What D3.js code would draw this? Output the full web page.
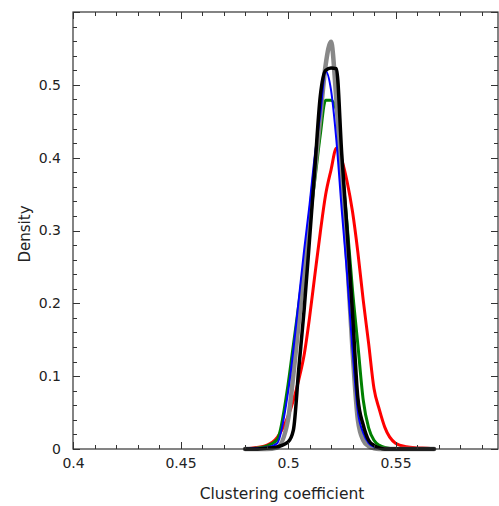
<!DOCTYPE html>
<html><head><meta charset="utf-8">
<script src="https://cdn.jsdelivr.net/npm/d3@7"></script>
<style>body{margin:0;background:#fff}svg{display:block}</style>
</head><body>
<script>
// ---- data ----
const xGrid = [0.48,0.485,0.49,0.495,0.5,0.5025,0.505,0.5075,0.51,0.5125,0.515,0.5175,0.52,0.5225,0.525,0.5275,0.53,0.5325,0.535,0.5375,0.54,0.5425,0.545,0.55,0.555,0.56,0.565,0.568];
const redVals   = [0,0.002,0.005,0.016,0.045,0.067,0.095,0.129,0.180,0.239,0.297,0.349,0.383,0.413,0.397,0.367,0.326,0.270,0.204,0.145,0.083,0.054,0.030,0.008,0.003,0.0015,0.001,0];
const greenVals = [0,0.001,0.004,0.013,0.088,0.143,0.198,0.255,0.312,0.370,0.431,0.479,0.479,0.466,0.390,0.308,0.218,0.143,0.067,0.029,0.012,0.005,0.002,0,0,0,0,0];
const grayVals  = [0,0,0,0.002,0.040,0.102,0.174,0.243,0.312,0.383,0.455,0.527,0.559,0.479,0.370,0.262,0.136,0.040,0.012,0.004,0.001,0,0,0,0,0,0,0];
const blueVals  = [0,0.001,0.002,0.008,0.078,0.136,0.205,0.273,0.335,0.404,0.459,0.519,0.493,0.424,0.328,0.239,0.136,0.051,0.022,0.008,0.003,0.001,0,0,0,0,0,0];
const blackVals = [0,0,0.001,0.003,0.0096,0.026,0.110,0.191,0.287,0.386,0.484,0.520,0.523,0.522,0.405,0.299,0.187,0.070,0.033,0.012,0.005,0.0015,0,0,0,0,0,0];
const xTickVals = [0.4,0.45,0.5,0.55];
const xTickLabels = ["0.4","0.45","0.5","0.55"];
const yTickVals = [0,0.1,0.2,0.3,0.4,0.5];
const yTickLabels = ["0","0.1","0.2","0.3","0.4","0.5"];
const xLabel = "Clustering coefficient";
const yLabel = "Density";

const series = [
  {name:"red",   vals:redVals,   color:"#ff0000", w:3},
  {name:"green", vals:greenVals, color:"#008000", w:3},
  {name:"gray",  vals:grayVals,  color:"#888888", w:4.5},
  {name:"blue",  vals:blueVals,  color:"#0000ff", w:2},
  {name:"black", vals:blackVals, color:"#000000", w:3.5}
];

// ---- layout ----
const W = 499, H = 506;
const mLeft = 73, mTop = 12, mBottom = 449, rightFull = 503, frameRight = 498;
const font = "DejaVu Sans, Verdana, sans-serif";

const x = d3.scaleLinear().domain([0.4, 0.6]).range([mLeft, rightFull]);
const y = d3.scaleLinear().domain([0, 0.6]).range([mBottom, mTop]);

const svg = d3.select("body").append("svg").attr("width", W).attr("height", H);

// curves
const line = d3.line().x(d => x(d[0])).y(d => y(d[1])).curve(d3.curveMonotoneX);
const gLines = svg.append("g");
series.forEach(s => {
  const pts = xGrid.map((v, i) => [v, s.vals[i]]);
  gLines.append("path").datum(pts).attr("d", line)
    .attr("fill", "none").attr("stroke", s.color).attr("stroke-width", s.w)
    .attr("stroke-linejoin", "round").attr("stroke-linecap", "round");
});

// frame
const axisColor = "#333";
svg.append("rect").attr("x", mLeft).attr("y", mTop).attr("width", frameRight - mLeft).attr("height", mBottom - mTop)
  .attr("fill", "none").attr("stroke", axisColor).attr("stroke-width", 1.2);

// minor/major ticks
const xMinor = d3.range(0, 20).map(i => 0.4 + i * 0.01).filter(v => x(v) < frameRight);
const yMinor = d3.range(0, 31).map(i => i * 0.02);
const tg = svg.append("g").attr("stroke", axisColor).attr("stroke-width", 1);
xMinor.forEach((v, i) => {
  const major = (i % 5 === 0);
  const len = major ? 7 : 4;
  const px = Math.round(x(v)) + 0.5;
  tg.append("line").attr("x1", px).attr("x2", px).attr("y1", mBottom).attr("y2", mBottom - len);
  tg.append("line").attr("x1", px).attr("x2", px).attr("y1", mTop).attr("y2", mTop + len);
});
yMinor.forEach((v, i) => {
  const major = (i % 5 === 0);
  const len = major ? 7 : 4;
  const py = Math.round(y(v)) + 0.5;
  tg.append("line").attr("y1", py).attr("y2", py).attr("x1", mLeft).attr("x2", mLeft + len);
  tg.append("line").attr("y1", py).attr("y2", py).attr("x1", frameRight).attr("x2", frameRight - len);
});

// axes labels via d3 axes (labels only)
const xAxis = d3.axisBottom(x).tickValues(xTickVals).tickFormat((d, i) => xTickLabels[i]).tickSize(0).tickPadding(9);
const gx = svg.append("g").attr("transform", `translate(0,${mBottom})`).call(xAxis);
const yAxis = d3.axisLeft(y).tickValues(yTickVals).tickFormat((d, i) => yTickLabels[i]).tickSize(0).tickPadding(12);
const gy = svg.append("g").attr("transform", `translate(${mLeft},0)`).call(yAxis);
[gx, gy].forEach(g => {
  g.select(".domain").remove();
  g.selectAll("text").attr("font-family", font).attr("font-size", 14).attr("fill", "#222");
});

svg.append("text").attr("x", 282).attr("y", 499)
  .attr("text-anchor", "middle").attr("font-family", font).attr("font-size", 15.5).attr("fill", "#222").text(xLabel);
svg.append("text").attr("transform", `translate(30,234) rotate(-90)`)
  .attr("text-anchor", "middle").attr("font-family", font).attr("font-size", 15).attr("fill", "#222").text(yLabel);
</script>
</body></html>
